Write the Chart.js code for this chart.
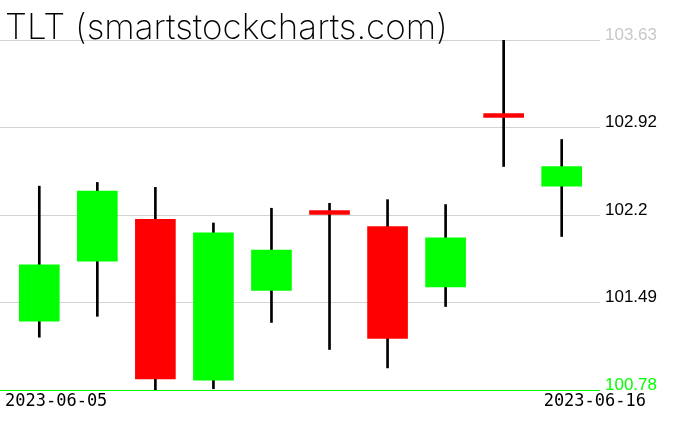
<!DOCTYPE html>
<html>
<head>
<meta charset="utf-8">
<script src="https://cdn.jsdelivr.net/npm/chart.js@4/dist/chart.umd.min.js"></script>
<style>
  html, body { margin: 0; padding: 0; background: #fff; }
  #wrap { width: 676px; height: 431px; }
</style>
</head>
<body>
<div id="wrap"><canvas id="tlt"></canvas></div>
<script>
// TLT daily candles
const dates = ['2023-06-05', '2023-06-06', '2023-06-07', '2023-06-08', '2023-06-09',
               '2023-06-12', '2023-06-13', '2023-06-14', '2023-06-15', '2023-06-16'];
const opens  = [101.34, 101.83, 102.17, 100.86, 101.59, 102.24, 102.11, 101.62, 103.03, 102.44];
const highs  = [102.44, 102.47, 102.43, 102.14, 102.26, 102.30, 102.33, 102.29, 103.63, 102.82];
const lows   = [101.21, 101.38, 100.78, 100.79, 101.33, 101.11, 100.96, 101.46, 102.60, 102.03];
const closes = [101.80, 102.40, 100.87, 102.06, 101.92, 102.21, 101.20, 102.02, 103.00, 102.60];
const yTickLabels = ['100.78', '101.49', '102.2', '102.92', '103.63'];

const yMin = Math.min(...lows);
const yMax = Math.max(...highs);

const wicks = dates.map((d, i) => ({ x: i, y: [lows[i], highs[i]] }));
const bodies = dates.map((d, i) => ({ x: i, y: [opens[i], closes[i]] }));
const bodyColors = dates.map((d, i) => closes[i] >= opens[i] ? '#00ff00' : '#ff0000');

// title and first/last date, drawn over the plot like the original
const overlay = {
    id: 'overlay',
    afterDraw(chart) {
        const ctx = chart.ctx;
        ctx.save();
        ctx.fillStyle = '#000';
        ctx.textBaseline = 'alphabetic';
        ctx.font = '200 35px Inter';
        ctx.textAlign = 'left';
        ctx.fillText('TLT (smartstockcharts.com)', 5, 39);
        ctx.font = '17px "DejaVu Sans Mono"';
        ctx.fillText(dates[0], 5, 406);
        ctx.textAlign = 'right';
        ctx.fillText(dates[dates.length - 1], 646, 406);
        ctx.restore();
    }
};

new Chart(document.getElementById('tlt').getContext('2d'), {
    type: 'bar',
    data: {
        datasets: [{
            label: 'wick',
            data: wicks,
            backgroundColor: '#000',
            barThickness: 2,
            grouped: false,
            order: 2
        }, {
            label: 'body',
            data: bodies,
            backgroundColor: bodyColors,
            barThickness: 40,
            grouped: false,
            order: 1
        }]
    },
    options: {
        responsive: true,
        maintainAspectRatio: false,
        animation: false,
        layout: { padding: { top: 40, bottom: 41, left: 0, right: 0 } },
        plugins: {
            legend: { display: false },
            tooltip: { enabled: false }
        },
        scales: {
            x: {
                type: 'linear',
                display: false,
                offset: false,
                min: -0.677,
                max: 9.66
            },
            y: {
                position: 'right',
                min: yMin,
                max: yMax,
                afterBuildTicks(scale) {
                    scale.ticks = yTickLabels.map((t, k) => ({ value: yMin + k * (yMax - yMin) / 4 }));
                },
                afterFit(scale) { scale.width = 76; },
                border: { display: false },
                grid: {
                    drawTicks: false,
                    color: ctx => ctx.index === 0 ? '#00ff00' : '#d3d3d3'
                },
                ticks: {
                    padding: 5,
                    labelOffset: -5,
                    font: { family: '"Liberation Sans"', size: 17 },
                    color: ctx => ctx.index === 0 ? '#00ff00' : (ctx.index === 4 ? '#c8c8c8' : '#000'),
                    callback: (v, k) => yTickLabels[k]
                }
            }
        }
    },
    plugins: [overlay]
});
</script>
</body>
</html>
